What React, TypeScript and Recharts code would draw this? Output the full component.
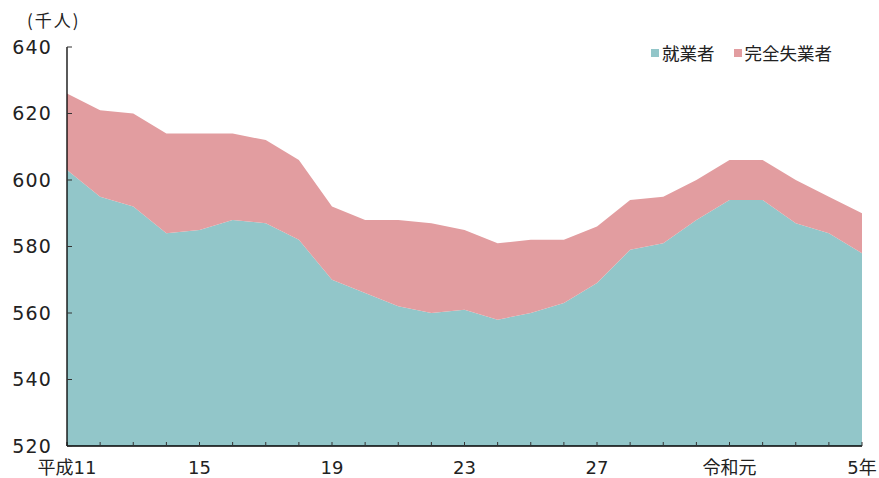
import React from 'react';
import { AreaChart, Area, XAxis, YAxis } from 'recharts';

const years = ['平成11','12','13','14','15','16','17','18','19','20','21','22','23','24','25','26','27','28','29','30','令和元','2','3','4','5年'];
const labeledYears = ['平成11','15','19','23','27','令和元','5年'];
const employed = [603,595,592,584,585,588,587,582,570,566,562,560,561,558,560,563,569,579,581,588,594,594,587,584,578];
const unemployed = [23,26,28,30,29,26,25,24,22,22,26,27,24,23,22,19,17,15,14,12,12,12,13,11,12];
const yTicks = [520,540,560,580,600,620,640];
const seriesNames = ['就業者','完全失業者'];
const colors = ['#92C6C9','#E29DA0'];

const data = years.map((y, i) => ({ year: y, employed: employed[i], unemployed: unemployed[i] }));

const LegendContent = () => (
  <div style={{ display: 'flex', fontFamily: '"Noto Sans CJK JP", sans-serif', fontSize: 17.5, color: '#222', lineHeight: '20px' }}>
    {seriesNames.map((n, i) => (
      <div key={n} style={{ display: 'flex', alignItems: 'center', marginRight: i === 0 ? 19 : 0 }}>
        <span style={{ display: 'inline-block', width: 8, height: 8, background: colors[i], marginRight: 3 }} />
        <span>{n}</span>
      </div>
    ))}
  </div>
);

export default function App() {
  return (
    <div style={{ position: 'absolute', left: 0, top: 0, width: 879, height: 478, background: '#fff' }}>
      <div style={{ position: 'absolute', left: 27, top: 9, fontFamily: '"Noto Sans CJK JP", sans-serif', fontSize: 17, letterSpacing: 2, color: '#222', lineHeight: '22px' }}>(千人)</div>
      <div style={{ position: 'absolute', left: 651, top: 43 }}>
        <LegendContent />
      </div>
      <AreaChart width={879} height={478} data={data} margin={{ top: 47, right: 17, bottom: 0, left: 0 }}>
        <XAxis
          dataKey="year"
          interval={0}
          height={32}
          tickSize={-4}
          tickMargin={19}
          tickFormatter={(v: string) => (labeledYears.includes(v) ? v : '')}
          axisLine={{ stroke: '#000', strokeWidth: 1.3 }}
          tickLine={{ stroke: '#333' }}
          tick={{ fill: '#222', fontSize: 18, fontFamily: '"DejaVu Sans", "Noto Sans CJK JP", sans-serif' }}
        />
        <YAxis
          width={67}
          domain={[520, 640]}
          ticks={yTicks}
          allowDataOverflow
          tickSize={-5}
          tickMargin={20}
          axisLine={{ stroke: '#000', strokeWidth: 1.3 }}
          tickLine={{ stroke: '#333' }}
          tick={{ fill: '#222', fontSize: 19, letterSpacing: 1.2, fontFamily: '"DejaVu Sans", sans-serif' }}
        />
        <Area type="linear" dataKey="employed" name={seriesNames[0]} stackId="1" stroke="none" fill={colors[0]} fillOpacity={1} isAnimationActive={false} />
        <Area type="linear" dataKey="unemployed" name={seriesNames[1]} stackId="1" stroke="none" fill={colors[1]} fillOpacity={1} isAnimationActive={false} />
      </AreaChart>
    </div>
  );
}
